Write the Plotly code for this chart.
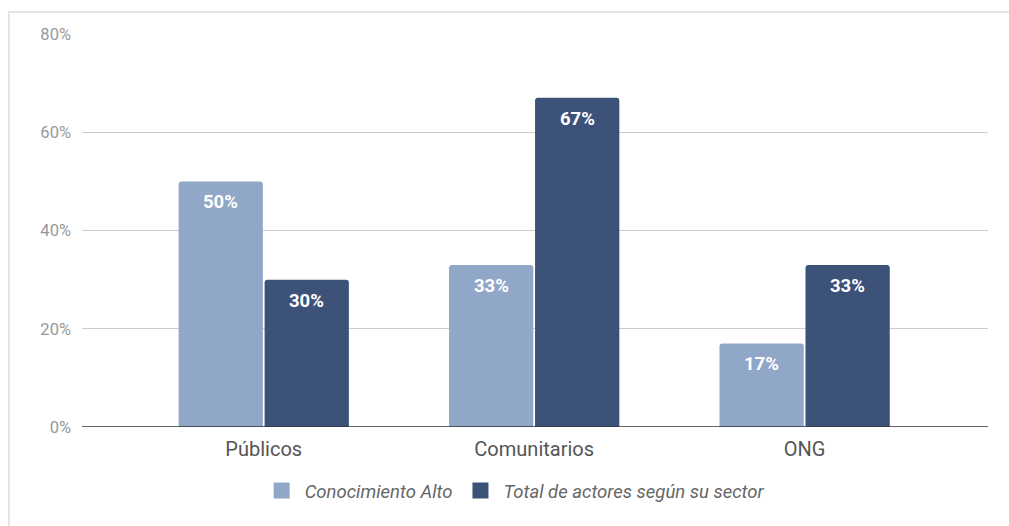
import plotly.graph_objects as go

categories = ["Públicos", "Comunitarios", "ONG"]
conocimiento_alto = [50, 33, 17]
total_actores = [30, 67, 33]
series_names = ["Conocimiento Alto", "Total de actores según su sector"]
y_ticks = [0, 20, 40, 60, 80]
y_tick_labels = ["0%", "20%", "40%", "60%", "80%"]

LIGHT = "#91A7C7"
DARK = "#3D5278"

# plot geometry used to place the value labels over each bar
PLOT_W = 1009 - 82 - 21
X_RANGE = [-0.672, 2.678]
BARGAP = 0.364
px_per_cat = PLOT_W / (X_RANGE[1] - X_RANGE[0])
bar_offset = px_per_cat * (1 - BARGAP) / 4

fig = go.Figure()
series = [(series_names[0], conocimiento_alto, LIGHT, -bar_offset),
          (series_names[1], total_actores, DARK, bar_offset)]
for name, vals, color, shift in series:
    fig.add_trace(go.Bar(
        x=categories, y=vals, name=name, showlegend=False,
        marker=dict(color=color, line=dict(width=0), cornerradius=3),
        hoverinfo="skip",
    ))
    # legend proxy with a larger square swatch
    fig.add_trace(go.Scatter(
        x=[None], y=[None], mode="markers", name=name,
        marker=dict(symbol="square", size=18, color=color),
    ))
    for cat, v in zip(categories, vals):
        fig.add_annotation(
            x=cat, y=v, xref="x", yref="y", text=f"{v}%", showarrow=False,
            xshift=shift, yshift=-21, yanchor="middle",
            font=dict(family="Roboto", size=18.5, color="white", weight="bold"),
        )

fig.update_layout(
    width=1009, height=526,
    margin=dict(l=82, r=21, t=34, b=99),
    paper_bgcolor="white", plot_bgcolor="white",
    font=dict(family="Roboto", color="#555"),
    barmode="group", bargap=BARGAP, bargroupgap=0.02,
    legend=dict(orientation="h", x=0.477, xanchor="center", y=-0.163,
                yanchor="middle", font=dict(size=18.5, color="#666", style="italic"),
                itemsizing="trace", itemwidth=36, traceorder="normal"),
    xaxis=dict(type="category", range=X_RANGE,
               showgrid=False, showline=False, ticks="", ticklabelstandoff=8,
               tickfont=dict(size=20, color="#555"), fixedrange=True),
    yaxis=dict(range=[0, 80], tickvals=y_ticks, ticktext=y_tick_labels,
               showgrid=True, gridcolor="#cccccc", gridwidth=1,
               zeroline=False, showline=False, ticks="", ticklabelstandoff=10,
               tickfont=dict(size=16.5, color="#999"), fixedrange=True),
    shapes=[
        dict(type="line", xref="paper", yref="y", x0=0, x1=1, y0=0, y1=0,
             line=dict(color="#333", width=1.5), layer="above"),
        dict(type="rect", xref="paper", yref="paper",
             x0=-0.0806, x1=1.04, y0=-0.35, y1=1.056,
             line=dict(color="#e4e4e4", width=2), layer="below"),
    ],
)

fig.write_html("out.html")
